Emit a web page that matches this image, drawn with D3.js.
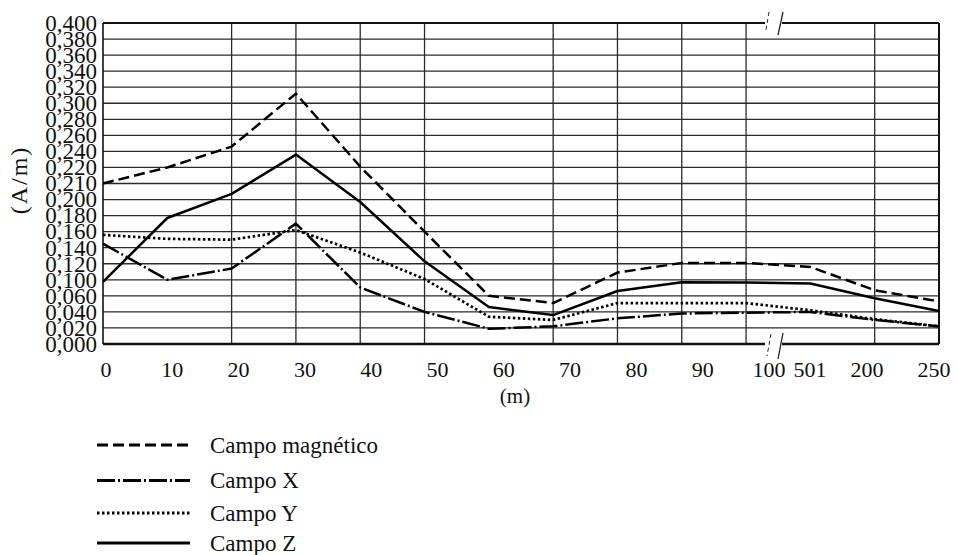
<!DOCTYPE html>
<html>
<head>
<meta charset="utf-8">
<script src="https://cdn.jsdelivr.net/npm/d3@7"></script>
<style>
  html, body { margin: 0; padding: 0; background: #fff; }
  svg { display: block; }
  text { font-family: "Liberation Serif", "DejaVu Serif", serif; fill: #111; }
</style>
</head>
<body>
<svg id="chart" width="958" height="555"></svg>
<script>
// ---- data ----
const xCategories = ["0","10","20","30","40","50","60","70","80","90","100","501","200","250"];
const yTickLabels = ["0,000","0,020","0,040","0,060","0,100","0,120","0,140","0,160","0,180","0,200","0,210","0,220","0,240","0,260","0,280","0,300","0,320","0,340","0,360","0,380","0,400"];
const yTickValues = [0,0.02,0.04,0.06,0.10,0.12,0.14,0.16,0.18,0.20,0.21,0.22,0.24,0.26,0.28,0.30,0.32,0.34,0.36,0.38,0.40];
const xGridCategories = ["20","30","40","50","70","80","90","100","200"];

const campoMagnetico = [0.210,0.220,0.246,0.312,0.221,0.160,0.060,0.051,0.109,0.121,0.121,0.116,0.074,0.053];
const campoX = [0.145,0.100,0.114,0.170,0.081,0.040,0.019,0.022,0.032,0.038,0.039,0.040,0.030,0.022];
const campoY = [0.156,0.151,0.150,0.162,0.134,0.101,0.034,0.030,0.051,0.051,0.051,0.042,0.031,0.022];
const campoZ = [0.095,0.177,0.2035,0.236,0.197,0.123,0.046,0.036,0.072,0.094,0.093,0.091,0.057,0.041];

const seriesNames = ["Campo magnético","Campo X","Campo Y","Campo Z"];

// ---- layout ----
const svg = d3.select("#chart");
const L = 103, R = 939, T = 23, B = 344;

const x = d3.scalePoint().domain(xCategories).range([L, R]);
const y = d3.scaleLinear()
  .domain(yTickValues)
  .range(yTickValues.map((d, i) => B - i * (B - T) / (yTickValues.length - 1)));

// label positions along x (labels are drawn slightly offset from grid in the original)
const labelX = d3.scaleLinear().domain([0, 10, 11, 12, 13]).range([106, 769, 810, 867, 934]);

const styles = [
  { dash: "11,5", width: 2.5 },
  { dash: "18,3,2,3", width: 2.5 },
  { dash: "2.5,2.5", width: 2.7 },
  { dash: null, width: 2.5 }
];

// horizontal grid
svg.append("g").selectAll("line")
  .data(yTickValues.slice(1, -1))
  .join("line")
  .attr("x1", L).attr("x2", R)
  .attr("y1", d => y(d)).attr("y2", d => y(d))
  .attr("stroke", "#2a2a2a").attr("stroke-width", 1.3);

// vertical grid
svg.append("g").selectAll("line")
  .data(xGridCategories)
  .join("line")
  .attr("x1", d => x(d)).attr("x2", d => x(d))
  .attr("y1", T).attr("y2", B)
  .attr("stroke", "#2a2a2a").attr("stroke-width", 1.3);

// frame with break gaps
const gapL = 765, gapR = 782;
const frame = svg.append("g").attr("stroke", "#111").attr("fill", "none");
frame.append("line").attr("x1", L).attr("x2", L).attr("y1", T).attr("y2", B).attr("stroke-width", 1.6);
frame.append("line").attr("x1", R).attr("x2", R).attr("y1", T).attr("y2", B).attr("stroke-width", 2);
frame.append("line").attr("x1", L).attr("x2", gapL).attr("y1", T).attr("y2", T).attr("stroke-width", 2);
frame.append("line").attr("x1", gapR).attr("x2", R).attr("y1", T).attr("y2", T).attr("stroke-width", 2);
frame.append("line").attr("x1", L).attr("x2", gapL).attr("y1", B).attr("y2", B).attr("stroke-width", 2.6);
frame.append("line").attr("x1", gapR).attr("x2", R).attr("y1", B).attr("y2", B).attr("stroke-width", 2.6);

// break marks
const brk = svg.append("g").attr("stroke", "#222").attr("fill", "none");
brk.append("line").attr("x1", 769).attr("y1", 12).attr("x2", 766).attr("y2", 30).attr("stroke-width", 1).attr("stroke-dasharray", "4,3");
brk.append("line").attr("x1", 783).attr("y1", 12).attr("x2", 778).attr("y2", 35).attr("stroke-width", 1.3);
brk.append("line").attr("x1", 771).attr("y1", 334).attr("x2", 767).attr("y2", 356).attr("stroke-width", 1).attr("stroke-dasharray", "4,3");
brk.append("line").attr("x1", 783).attr("y1", 333).attr("x2", 778).attr("y2", 359).attr("stroke-width", 1.3);

// series
const line = d3.line().x((d, i) => x(xCategories[i])).y(d => y(d));
const allSeries = [campoMagnetico, campoX, campoY, campoZ];
svg.append("g").selectAll("path")
  .data(allSeries)
  .join("path")
  .attr("d", d => line(d))
  .attr("fill", "none")
  .attr("stroke", "#000")
  .attr("stroke-width", (d, i) => styles[i].width)
  .attr("stroke-dasharray", (d, i) => styles[i].dash)
  .attr("stroke-linejoin", "round");

// y tick labels
svg.append("g").selectAll("text")
  .data(yTickValues)
  .join("text")
  .attr("x", 97)
  .attr("y", d => y(d))
  .attr("dy", "0.34em")
  .attr("text-anchor", "end")
  .attr("font-size", 23)
  .text((d, i) => yTickLabels[i]);

// x tick labels
svg.append("g").selectAll("text")
  .data(xCategories)
  .join("text")
  .attr("x", (d, i) => labelX(i))
  .attr("y", 377)
  .attr("text-anchor", "middle")
  .attr("font-size", 22)
  .text(d => d);

// axis titles
svg.append("text").attr("x", 515).attr("y", 403).attr("text-anchor", "middle").attr("font-size", 21).text("(m)");
svg.append("text").attr("transform", "translate(27,180) rotate(-90)").attr("text-anchor", "middle").attr("font-size", 24).attr("letter-spacing", 2).text("(A/m)");

// legend
const legendY = [445, 480.5, 513, 543];
const lg = svg.append("g");
lg.selectAll("line")
  .data(seriesNames)
  .join("line")
  .attr("x1", 97).attr("x2", 190)
  .attr("y1", (d, i) => legendY[i]).attr("y2", (d, i) => legendY[i])
  .attr("stroke", "#000")
  .attr("stroke-width", (d, i) => styles[i].width + 0.5)
  .attr("stroke-dasharray", (d, i) => styles[i].dash);
lg.selectAll("text")
  .data(seriesNames)
  .join("text")
  .attr("x", 210)
  .attr("y", (d, i) => legendY[i])
  .attr("dy", "0.33em")
  .attr("font-size", 23)
  .text(d => d);
</script>
</body>
</html>
